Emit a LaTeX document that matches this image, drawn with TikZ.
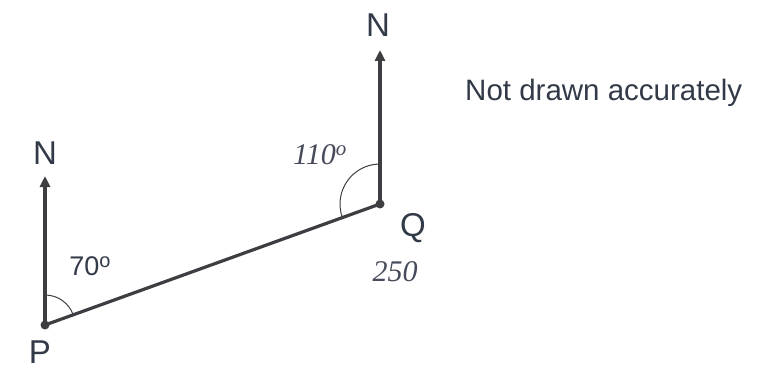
\documentclass[tikz,border=0pt]{standalone}
\usepackage{fontspec}
\setmainfont{Liberation Sans}
\newfontfamily\handfont{Liberation Serif}
\usetikzlibrary{arrows.meta}
\definecolor{ink}{RGB}{62,62,66}
\definecolor{txt}{RGB}{50,58,72}
\definecolor{pen}{RGB}{70,74,90}
\tikzset{
  leg/.style={line width=3.2pt, draw=ink},
  north/.style={leg, -{Triangle[length=11pt,width=10pt]}},
  pt/.style={circle, fill=ink, inner sep=0pt, minimum size=9pt},
  lab/.style={text=txt, font=\fontsize{33}{33}\selectfont, inner sep=0pt},
  anglearc/.style={draw=ink, line width=1pt},
  hand/.style={text=pen, font=\handfont\itshape\fontsize{30}{30}\selectfont, inner sep=0pt}
}
\begin{document}
\begin{tikzpicture}[x=1pt,y=-1pt]
\useasboundingbox (0,0) rectangle (757,369);
\node[pt] (P) at (45,325) {};
\node[pt] (Q) at (380,204) {};
\coordinate (PN) at (45,176);
\coordinate (QN) at (380,50);
\draw[leg] (P.center) -- (Q.center);
\draw[north] (P.center) -- (PN);
\draw[north] (Q.center) -- (QN);
\node[lab] (nP) at (45,153) {N};
\node[lab] (nQ) at (378,25) {N};
\node[lab] (lP) at (40,352) {P};
\node[lab] (lQ) at (413,228) {Q};
\draw[anglearc] ([shift={(270:30)}]P.center) arc[start angle=270, end angle=340, radius=30];
\draw[anglearc] ([shift={(270:40)}]Q.center) arc[start angle=270, end angle=160, radius=40];
\node[text=txt, font=\fontsize{27}{27}\selectfont, inner sep=0pt] (a70) at (90,266) {70\raisebox{8pt}{\fontsize{20}{20}\selectfont o}};
\node[hand] (a110) at (320,155) {110\textsuperscript{o}};
\node[hand] (b250) at (395,272) {250};
\node[text=txt, font=\fontsize{29.5}{29.5}\selectfont, inner sep=0pt, anchor=west] (note) at (465,93) {Not drawn accurately};
\end{tikzpicture}
\end{document}
